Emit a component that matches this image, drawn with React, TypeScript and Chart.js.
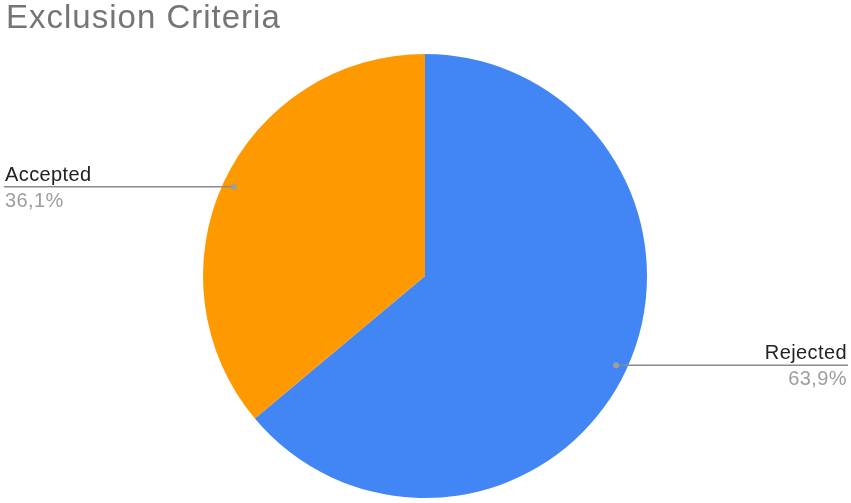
import React, { useEffect, useRef } from "react";
import { Chart, registerables } from "chart.js";

Chart.register(...registerables);

const titleText = "Exclusion Criteria";
const categories = ["Rejected", "Accepted"];
const values = [63.9, 36.1];
const colors = ["#4285F4", "#FF9900"];

const fmtPct = (v: number, total: number) =>
  ((v / total) * 100).toFixed(1).replace(".", ",") + "%";

const labelPlugin = {
  id: "leaderLabels",
  afterDraw(chart: any) {
    const ctx = chart.ctx as CanvasRenderingContext2D;
    const meta = chart.getDatasetMeta(0);
    const total = values.reduce((a, b) => a + b, 0);
    const W = chart.width;
    ctx.save();
    // title
    ctx.font = "33px 'Liberation Sans', Arial, sans-serif";
    (ctx as any).letterSpacing = "1px";
    ctx.fillStyle = "#757575";
    ctx.textAlign = "left";
    ctx.textBaseline = "alphabetic";
    ctx.fillText(titleText, 6, 28);
    (ctx as any).letterSpacing = "0.4px";

    meta.data.forEach((arc: any, i: number) => {
      const { x, y, startAngle, endAngle, outerRadius } = arc.getProps(
        ["x", "y", "startAngle", "endAngle", "outerRadius"],
        true
      );
      const mid = (startAngle + endAngle) / 2;
      const dx = Math.cos(mid) * outerRadius * 0.95;
      const dy = Math.sin(mid) * outerRadius * 0.95;
      const px = x + dx;
      const py = y + dy;
      const left = dx < 0;
      const lineEnd = left ? 4 : W - 3;
      ctx.strokeStyle = "#8a8a8a";
      ctx.lineWidth = 1.5;
      ctx.beginPath();
      ctx.moveTo(px, py);
      ctx.lineTo(lineEnd, py);
      ctx.stroke();
      ctx.fillStyle = "#9e9e9e";
      ctx.beginPath();
      ctx.arc(px, py, 3, 0, Math.PI * 2);
      ctx.fill();
      ctx.font = "20px 'Liberation Sans', Arial, sans-serif";
      ctx.textAlign = left ? "left" : "right";
      const tx = left ? 5 : W - 4;
      ctx.fillStyle = "#222222";
      ctx.fillText(categories[i], tx, py - 6);
      ctx.fillStyle = "#9e9e9e";
      ctx.fillText(fmtPct(values[i], total), tx, py + 20);
    });
    ctx.restore();
  },
};

export default function App() {
  const ref = useRef<HTMLCanvasElement>(null);
  useEffect(() => {
    document.body.style.margin = "0";
    const chart = new Chart(ref.current!, {
      type: "pie",
      data: {
        labels: categories,
        datasets: [
          {
            data: values,
            backgroundColor: colors,
            borderWidth: 0,
          },
        ],
      },
      options: {
        responsive: false,
        animation: false,
        layout: { padding: { top: 54, bottom: 5, left: 0, right: 1 } },
        plugins: {
          legend: { display: false },
          tooltip: { enabled: false },
          title: { display: false },
        },
      },
      plugins: [labelPlugin],
    });
    return () => chart.destroy();
  }, []);
  return (
    <div style={{ width: 851, height: 503, background: "#fff" }}>
      <canvas ref={ref} width={851} height={503} />
    </div>
  );
}
